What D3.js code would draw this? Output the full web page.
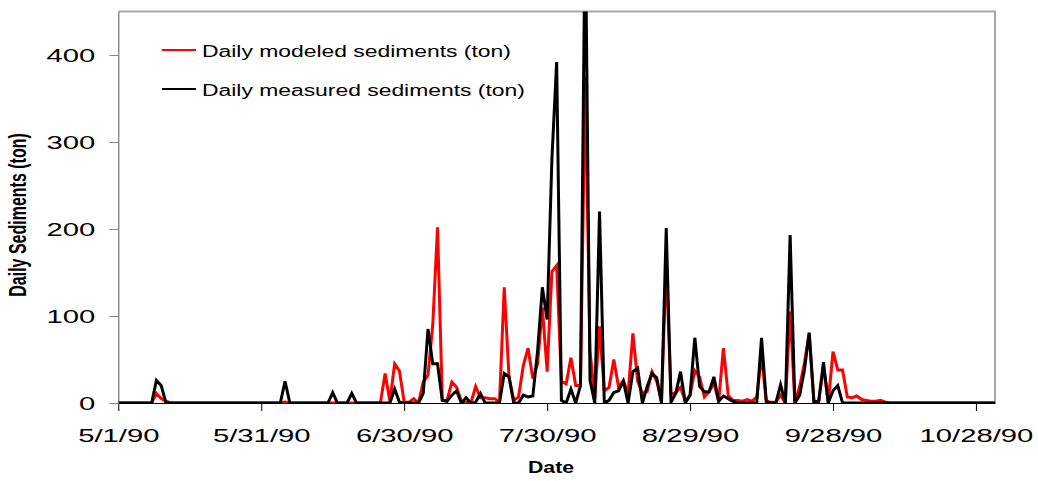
<!DOCTYPE html>
<html>
<head>
<meta charset="utf-8">
<script src="https://cdn.jsdelivr.net/npm/d3@7"></script>
<style>
  body { margin: 0; background: #fff; }
  svg { display: block; font-family: "Liberation Sans", Arial, sans-serif; }
</style>
</head>
<body>
<div id="app"></div>
<script>
// daily values from 5/1/90 (index 0) to 11/1/90 (index 184), tons
const startDate = '1990-05-01';
const endDate = '1990-11-01';

const modeled = [
  0, 0, 0, 0, 0, 0, 0, 0, 11, 5,
  2, 0, 0, 0, 0, 0, 0, 0, 0, 0,
  0, 0, 0, 0, 0, 0, 0, 0, 0, 0,
  0, 0, 0, 0, 0, 1, 0, 0, 0, 0,
  0, 0, 0, 0, 0, 0, 0, 0, 0, 0,
  0, 0, 0, 0, 0, 0, 34, 2, 45, 37,
  1, 1, 5, 0, 24, 32, 90, 202, 3, 3,
  24, 18, 2, 1, 0, 19, 6, 6, 5, 5,
  1, 133, 30, 3, 7, 43, 63, 28, 45, 110,
  36, 151, 158, 25, 22, 52, 20, 20, 375, 60,
  5, 88, 14, 18, 50, 18, 26, 11, 80, 25,
  11, 13, 36, 25, 2, 160, 10, 12, 18, 2,
  9, 37, 30, 7, 13, 23, 2, 63, 9, 3,
  3, 2, 4, 2, 7, 55, 1, 1, 1, 9,
  0, 105, 0, 19, 46, 80, 1, 2, 42, 1,
  59, 38, 38, 7, 6, 8, 4, 3, 2, 2,
  3, 1, 0, 0, 0, 0, 0, 0, 0, 0,
  0, 0, 0, 0, 0, 0, 0, 0, 0, 0,
  0, 0, 0, 0, 0
];

const measured = [
  0, 0, 0, 0, 0, 0, 0, 0, 26, 20,
  0, 0, 0, 0, 0, 0, 0, 0, 0, 0,
  0, 0, 0, 0, 0, 0, 0, 0, 0, 0,
  0, 0, 0, 0, 0, 25, 0, 0, 0, 0,
  0, 0, 0, 0, 0, 12, 0, 0, 0, 11,
  0, 0, 0, 0, 0, 0, 0, 0, 16, 1,
  0, 0, 0, 0, 11, 85, 45, 45, 3, 2,
  9, 14, 0, 6, 0, 1, 11, 0, 0, 0,
  0, 34, 30, 0, 0, 9, 7, 8, 60, 133,
  96, 280, 392, 3, 0, 16, 0, 20, 560, 26,
  0, 220, 0, 3, 12, 14, 25, 0, 36, 40,
  0, 19, 34, 29, 0, 201, 1, 11, 36, 0,
  9, 75, 19, 13, 13, 30, 2, 8, 5, 2,
  0, 0, 0, 0, 0, 75, 2, 0, 0, 21,
  0, 193, 0, 9, 38, 81, 1, 2, 47, 0,
  14, 20, 0, 0, 0, 0, 0, 0, 0, 0,
  0, 0, 0, 0, 0, 0, 0, 0, 0, 0,
  0, 0, 0, 0, 0, 0, 0, 0, 0, 0,
  0, 0, 0, 0, 0
];

const xTickDates = ['1990-05-01', '1990-05-31', '1990-06-30', '1990-07-30', '1990-08-29', '1990-09-28', '1990-10-28'];
const yTicks = [0, 100, 200, 300, 400];
const seriesNames = ['Daily modeled sediments (ton)', 'Daily measured sediments (ton)'];
const seriesColors = ['#ff0000', '#000000'];

const width = 1038;
const height = 481;
const plot = { left: 118.3, right: 995, top: 11.5, bottom: 403 };
const stretch = 1.54; // the original picture is widened, text too

const parse = d3.timeParse('%Y-%m-%d');
const start = parse(startDate);
const days = modeled.map((_, i) => d3.timeDay.offset(start, i));

const x = d3.scaleTime()
  .domain([start, parse(endDate)])
  .range([plot.left, plot.right]);

const y = d3.scaleLinear()
  .domain([0, 450])
  .range([plot.bottom, plot.top]);

const svg = d3.select('#app').append('svg')
  .attr('width', width)
  .attr('height', height);

svg.append('clipPath').attr('id', 'clip')
  .append('rect')
  .attr('x', plot.left)
  .attr('y', plot.top)
  .attr('width', plot.right - plot.left)
  .attr('height', plot.bottom - plot.top);

// frame on top and right
svg.append('path')
  .attr('d', `M${plot.left},${plot.top}H${plot.right}V${plot.bottom}`)
  .attr('fill', 'none')
  .attr('stroke', '#a8a8a8')
  .attr('stroke-width', 2);

// 1. lines
const line = d3.line()
  .x((d, i) => x(days[i]))
  .y(d => y(d));

const lines = svg.append('g').attr('clip-path', 'url(#clip)');
[modeled, measured].forEach((values, k) => {
  lines.append('path')
    .datum(values)
    .attr('d', line)
    .attr('fill', 'none')
    .attr('stroke', seriesColors[k])
    .attr('stroke-width', 3)
    .attr('stroke-linejoin', 'miter');
});

// 2. axes
const xAxis = svg.append('g')
  .attr('transform', `translate(0, ${plot.bottom})`)
  .call(d3.axisBottom(x)
    .tickValues(xTickDates.map(parse))
    .tickFormat(d3.timeFormat('%-m/%-d/%y'))
    .tickSize(8)
    .tickSizeOuter(0));
xAxis.select('.domain').attr('stroke', '#000');
xAxis.selectAll('.tick line').attr('stroke', '#000');
xAxis.selectAll('.tick text')
  .attr('y', 39)
  .attr('dy', 0)
  .attr('transform', `scale(${stretch},1)`)
  .attr('fill', '#000')
  .style('font-size', '19px')
  .style('font-family', '"Liberation Sans", Arial, sans-serif');

const yAxis = svg.append('g')
  .attr('transform', `translate(${plot.left}, 0)`)
  .call(d3.axisLeft(y)
    .tickValues(yTicks)
    .tickSize(9)
    .tickSizeOuter(0));
yAxis.select('.domain').attr('stroke', '#555');
yAxis.selectAll('.tick line').attr('stroke', '#888');
yAxis.selectAll('.tick text')
  .attr('x', -23 / stretch)
  .attr('transform', `scale(${stretch},1)`)
  .attr('fill', '#000')
  .style('font-size', '19px')
  .style('font-family', '"Liberation Sans", Arial, sans-serif');

// 3. titles
svg.append('text')
  .attr('transform', 'translate(551, 473) scale(1.25,1)')
  .attr('text-anchor', 'middle')
  .style('font-size', '17px')
  .style('font-weight', 'bold')
  .text('Date');

svg.append('text')
  .attr('transform', `translate(26, 215) scale(${stretch},1) rotate(-90)`)
  .attr('text-anchor', 'middle')
  .style('font-size', '16px')
  .style('font-weight', 'bold')
  .text('Daily Sediments (ton)');

// 4. legend
const legend = svg.append('g')
  .selectAll('g')
  .data(seriesNames)
  .enter()
    .append('g')
    .attr('transform', (d, i) => `translate(162, ${50 + i * 39})`);

legend.append('line')
  .attr('x1', 0)
  .attr('x2', 34)
  .attr('stroke', (d, i) => seriesColors[i])
  .attr('stroke-width', 2);

legend.append('text')
  .attr('transform', 'translate(40, 7) scale(1.43,1)')
  .style('font-size', '16px')
  .text(d => d);
</script>
</body>
</html>
